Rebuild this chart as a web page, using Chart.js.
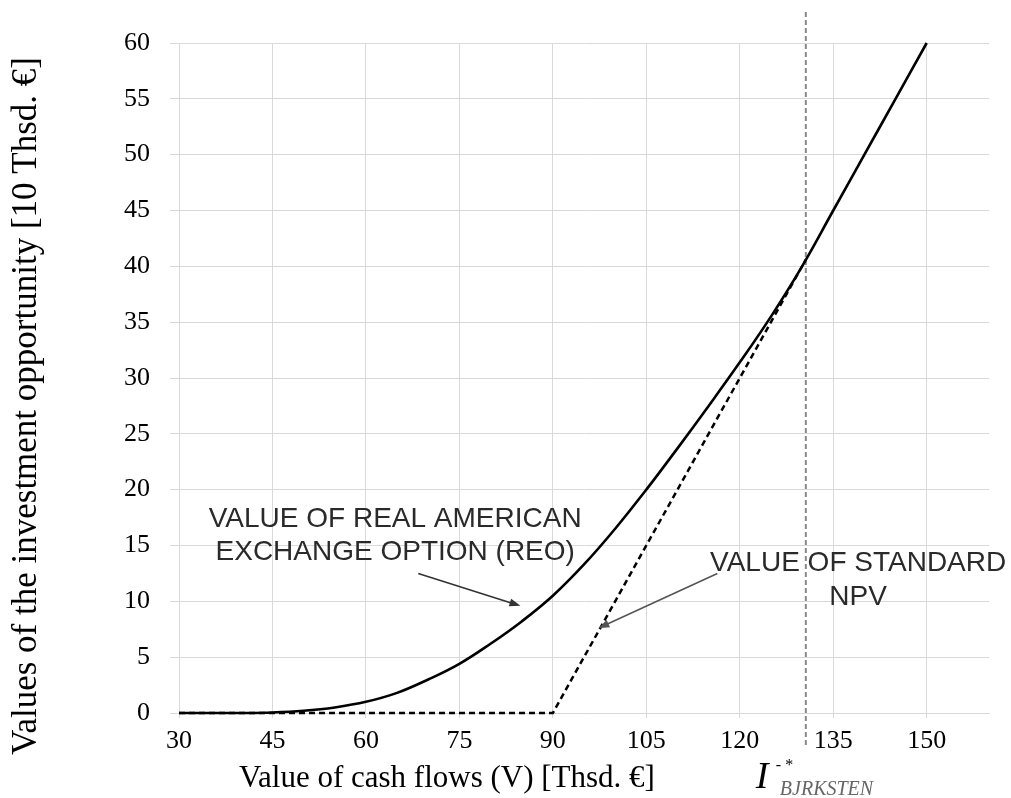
<!DOCTYPE html>
<html>
<head>
<meta charset="utf-8">
<script src="https://cdn.jsdelivr.net/npm/chart.js@4/dist/chart.umd.min.js"></script>
<style>
    html, body { margin: 0; padding: 0; background: #fff; }
    #wrap { width: 1011px; height: 798px; position: relative; }
</style>
</head>
<body>
<div id="wrap"><canvas id="chartfield"></canvas></div>
<script>
// values
const cashFlows = [30, 35, 40, 45, 50, 55, 60, 65, 70, 75, 80, 85, 90, 95, 100, 105, 110, 115, 120, 125, 130, 135, 140, 145, 150];
const reoValues = [0, 0, 0, 0.05, 0.2, 0.5, 1.0, 1.8, 3.0, 4.4, 6.2, 8.2, 10.5, 13.3, 16.5, 20.0, 23.7, 27.5, 31.4, 35.5, 40.0, 45.0, 50.0, 55.0, 60.0];
const npvCashFlows = [30, 90, 130.6];
const npvValues = [0, 0, 40.6];
const vStar = 130.6;
const xTicks = [30, 45, 60, 75, 90, 105, 120, 135, 150];

const xTitle = "Value of cash flows (V) [Thsd. €]";
const yTitle = "Values of the investment opportunity [10 Thsd. €]";
const reoLabel = ["VALUE OF REAL AMERICAN", "EXCHANGE OPTION (REO)"];
const npvLabel = ["VALUE OF STANDARD", "NPV"];

// annotation placement (in axis units)
const reoText = { x: 64.7, y: 16.7, lineGap: 33 };
const npvText = { x: 139.0, y: 12.7, lineGap: 34 };
const reoArrow = { from: [68.4, 12.5], to: [84.8, 9.6] };
const npvArrow = { from: [116.4, 12.5], to: [97.3, 7.6] };

const serif = '"Liberation Serif", "Times New Roman", serif';
const sans = '"Liberation Sans", Arial, sans-serif';

function toXY(xs, ys) {
    return xs.map((v, i) => ({ x: v, y: ys[i] }));
}

function drawArrow(ctx, x1, y1, x2, y2, color) {
    const ang = Math.atan2(y2 - y1, x2 - x1);
    const len = 11, half = 4;
    ctx.strokeStyle = color;
    ctx.fillStyle = color;
    ctx.lineWidth = 1.6;
    ctx.setLineDash([]);
    ctx.beginPath();
    ctx.moveTo(x1, y1);
    ctx.lineTo(x2 - Math.cos(ang) * len * 0.8, y2 - Math.sin(ang) * len * 0.8);
    ctx.stroke();
    ctx.beginPath();
    ctx.moveTo(x2, y2);
    ctx.lineTo(x2 - Math.cos(ang) * len - Math.sin(ang) * half, y2 - Math.sin(ang) * len + Math.cos(ang) * half);
    ctx.lineTo(x2 - Math.cos(ang) * len + Math.sin(ang) * half, y2 - Math.sin(ang) * len - Math.cos(ang) * half);
    ctx.closePath();
    ctx.fill();
}

const vStarLine = {
    id: "vStarLine",
    beforeDatasetsDraw(chart) {
        const ctx = chart.ctx;
        const px = chart.scales.x.getPixelForValue(vStar);
        ctx.save();
        ctx.strokeStyle = "#8a8a8a";
        ctx.lineWidth = 2;
        ctx.setLineDash([5, 3]);
        ctx.beginPath();
        ctx.moveTo(px, 12);
        ctx.lineTo(px, 748);
        ctx.stroke();
        ctx.restore();
    },
};

const overlay = {
    id: "overlay",
    afterDraw(chart) {
        const ctx = chart.ctx;
        const xs = chart.scales.x;
        const ys = chart.scales.y;
        ctx.save();

        // axis titles
        ctx.fillStyle = "#000";
        ctx.font = `31px ${serif}`;
        ctx.textAlign = "center";
        ctx.textBaseline = "alphabetic";
        ctx.fillText(xTitle, 447, 787);

        ctx.save();
        ctx.translate(27, 406);
        ctx.rotate(-Math.PI / 2);
        ctx.font = `35px ${serif}`;
        ctx.textBaseline = "middle";
        ctx.fillText(yTitle, 0, 0);
        ctx.restore();

        // text labels
        ctx.fillStyle = "#2a2a2a";
        ctx.font = `28px ${sans}`;
        ctx.textAlign = "center";
        reoLabel.forEach((t, i) => {
            ctx.fillText(t, xs.getPixelForValue(reoText.x), ys.getPixelForValue(reoText.y) + i * reoText.lineGap);
        });
        npvLabel.forEach((t, i) => {
            ctx.fillText(t, xs.getPixelForValue(npvText.x), ys.getPixelForValue(npvText.y) + i * npvText.lineGap);
        });

        drawArrow(ctx,
            xs.getPixelForValue(reoArrow.from[0]), ys.getPixelForValue(reoArrow.from[1]),
            xs.getPixelForValue(reoArrow.to[0]), ys.getPixelForValue(reoArrow.to[1]), "#333");
        drawArrow(ctx,
            xs.getPixelForValue(npvArrow.from[0]), ys.getPixelForValue(npvArrow.from[1]),
            xs.getPixelForValue(npvArrow.to[0]), ys.getPixelForValue(npvArrow.to[1]), "#555");

        // I** label under the V** line
        const px = xs.getPixelForValue(vStar);
        ctx.textAlign = "left";
        ctx.fillStyle = "#000";
        ctx.font = `italic 38px ${serif}`;
        ctx.fillText("I", px - 50, 788);
        ctx.font = `16px ${serif}`;
        ctx.fillText("- *", px - 30, 770);
        ctx.fillStyle = "#666";
        ctx.font = `italic 20px ${serif}`;
        ctx.fillText("BJRKSTEN", px - 26, 795);

        ctx.restore();
    },
};

function drawChart(canvas) {
    return new Chart(canvas, {
        type: "line",
        data: {
            datasets: [
                {
                    label: "REO",
                    data: toXY(cashFlows, reoValues),
                    borderColor: "#000",
                    borderWidth: 2.6,
                    pointRadius: 0,
                    tension: 0.4,
                    fill: false,
                    clip: 4,
                },
                {
                    label: "NPV",
                    data: toXY(npvCashFlows, npvValues),
                    borderColor: "#000",
                    borderWidth: 2.5,
                    borderDash: [6, 4],
                    pointRadius: 0,
                    tension: 0,
                    fill: false,
                    clip: 4,
                },
            ],
        },
        options: {
            responsive: true,
            maintainAspectRatio: false,
            animation: false,
            devicePixelRatio: 1,
            layout: { padding: { top: 43, right: 22, bottom: 0, left: 0 } },
            plugins: {
                legend: { display: false },
                tooltip: { enabled: false },
            },
            scales: {
                x: {
                    type: "linear",
                    min: 30,
                    max: 160,
                    afterBuildTicks: (scale) => {
                        scale.ticks = xTicks.map((v) => ({ value: v }));
                    },
                    afterFit: (scale) => { scale.height = 85; },
                    ticks: {
                        color: "#000",
                        font: { family: serif, size: 26 },
                        padding: 8,
                        maxRotation: 0,
                    },
                    grid: { color: "#d9d9d9", tickLength: 5, lineWidth: 1 },
                    border: { color: "#d9d9d9" },
                },
                y: {
                    min: 0,
                    max: 60,
                    afterFit: (scale) => { scale.width = 179; },
                    ticks: {
                        stepSize: 5,
                        color: "#000",
                        font: { family: serif, size: 26 },
                        padding: 20,
                    },
                    grid: { color: "#d9d9d9", tickLength: 9, lineWidth: 1 },
                    border: { color: "#d9d9d9" },
                },
            },
        },
        plugins: [vStarLine, overlay],
    });
}

document.addEventListener("DOMContentLoaded", () => {
    drawChart(document.querySelector("#chartfield"));
});
</script>
</body>
</html>
